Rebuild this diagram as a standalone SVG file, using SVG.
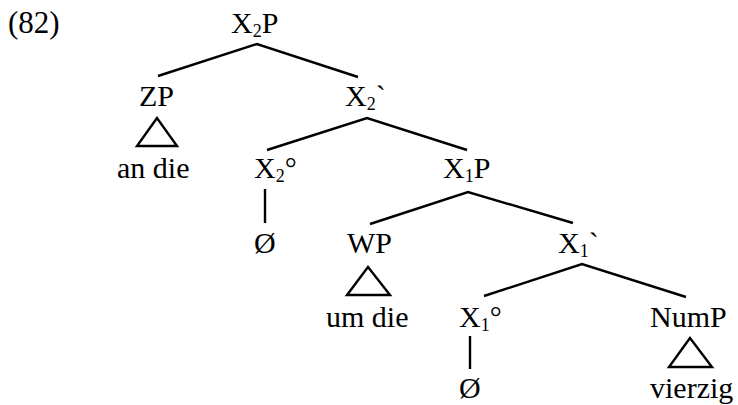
<svg xmlns="http://www.w3.org/2000/svg" width="738" height="405" viewBox="0 0 738 405">
<style>
text{font-family:"Liberation Serif","Times New Roman",serif;font-size:30px;fill:#000}
.s{font-size:18px}
.e{stroke:#000;stroke-width:2.4;fill:none;stroke-linecap:butt;stroke-linejoin:miter}
</style>
<rect width="738" height="405" fill="#fff"/>
<text id="num" x="8" y="33" style="font-size:31px">(82)</text>
<g id="connectors" class="e">
<polyline points="158,76 257,44 358,77"/>
<polyline points="267,150 367,118 467,150"/>
<polyline points="370,224 468,192 573,223"/>
<polyline points="484,296 582,264 686,297"/>
<line x1="265" y1="189" x2="265" y2="223"/>
<line x1="470" y1="336" x2="470" y2="369"/>
<polygon points="157,118 137,146 177,146"/>
<polygon points="368,267 347,295 390,295"/>
<polygon points="690,338 669,367 712,367"/>
</g>
<g id="X2P"><text x="231" y="33">X<tspan class="s" dy="4">2</tspan><tspan dy="-4">P</tspan></text></g>
<g id="ZP"><text x="139" y="106">ZP</text></g>
<g id="X2bar"><text x="345" y="106">X<tspan class="s" dy="4">2</tspan><tspan dy="-4">`</tspan></text></g>
<g id="andie"><text x="117" y="178">an die</text></g>
<g id="X2head"><text x="254" y="178">X<tspan class="s" dy="4">2</tspan><tspan dy="-4">°</tspan></text></g>
<g id="X1P"><text x="443" y="178">X<tspan class="s" dy="4">1</tspan><tspan dy="-4">P</tspan></text></g>
<g id="empty2"><text x="254" y="253">Ø</text></g>
<g id="WP"><text x="347" y="253">WP</text></g>
<g id="X1bar"><text x="558" y="253">X<tspan class="s" dy="4">1</tspan><tspan dy="-4">`</tspan></text></g>
<g id="umdie"><text x="326" y="327">um die</text></g>
<g id="X1head"><text x="459" y="327">X<tspan class="s" dy="4">1</tspan><tspan dy="-4">°</tspan></text></g>
<g id="NumP"><text x="650" y="327">NumP</text></g>
<g id="empty1"><text x="459" y="398">Ø</text></g>
<g id="vierzig"><text x="650" y="398">vierzig</text></g>
</svg>
